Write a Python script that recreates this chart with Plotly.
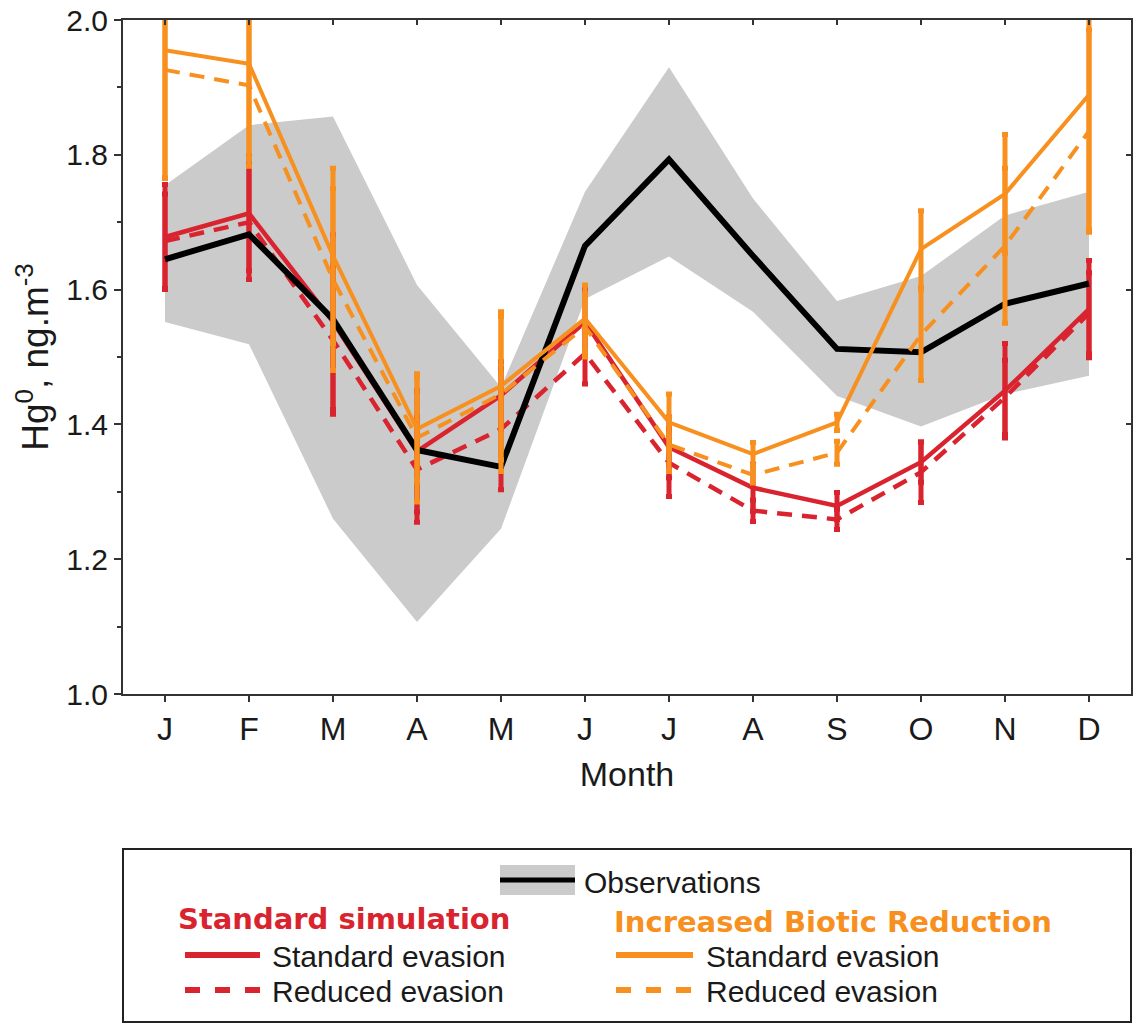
import plotly.graph_objects as go

# ---------------- data ----------------
month_labels = ["J", "F", "M", "A", "M", "J", "J", "A", "S", "O", "N", "D"]
month_idx = [1, 2, 3, 4, 5, 6, 7, 8, 9, 10, 11, 12]

obs_mean = [1.645, 1.682, 1.556, 1.362, 1.337, 1.665, 1.793, 1.650, 1.512, 1.507, 1.579, 1.609]
obs_high = [1.755, 1.844, 1.857, 1.607, 1.455, 1.745, 1.930, 1.735, 1.583, 1.620, 1.710, 1.745]
obs_low = [1.552, 1.519, 1.260, 1.107, 1.245, 1.586, 1.649, 1.567, 1.442, 1.397, 1.445, 1.472]

std_sim_std_evasion = [1.678, 1.713, 1.552, 1.360, 1.443, 1.552, 1.366, 1.306, 1.279, 1.344, 1.450, 1.571]
std_sim_std_evasion_err = [0.078, 0.085, 0.130, 0.090, 0.050, 0.050, 0.045, 0.035, 0.020, 0.030, 0.070, 0.072]
std_sim_red_evasion = [1.672, 1.700, 1.525, 1.333, 1.393, 1.505, 1.343, 1.272, 1.259, 1.329, 1.440, 1.565]
std_sim_red_evasion_err = [0.070, 0.085, 0.110, 0.078, 0.090, 0.045, 0.050, 0.016, 0.015, 0.045, 0.055, 0.060]

ibr_std_evasion = [1.955, 1.935, 1.650, 1.393, 1.457, 1.557, 1.403, 1.356, 1.403, 1.660, 1.742, 1.889]
ibr_std_evasion_err = [0.190, 0.140, 0.130, 0.077, 0.110, 0.050, 0.042, 0.017, 0.012, 0.057, 0.088, 0.200]
ibr_red_evasion = [1.926, 1.903, 1.615, 1.380, 1.445, 1.545, 1.370, 1.325, 1.358, 1.533, 1.665, 1.835]
ibr_red_evasion_err = [0.160, 0.120, 0.135, 0.095, 0.115, 0.045, 0.040, 0.012, 0.017, 0.068, 0.115, 0.150]

y_ticks = [1.0, 1.2, 1.4, 1.6, 1.8, 2.0]
y_ticklabels = ["1.0", "1.2", "1.4", "1.6", "1.8", "2.0"]

# ---------------- style ----------------
RED = "#d9232e"
ORANGE = "#f7901e"
GRAY = "#cbcbcb"
AXIS = "#333333"
FONT = "Liberation Sans, Arial, sans-serif"
BOLDFONT = "DejaVu Sans, sans-serif"

W, H = 1133, 1025
L, R, T, B = 123, 2, 20, 331
PW, PH = W - L - R, H - T - B


def px(x):
    return (x - L) / PW


def py(y):
    return (H - B - y) / PH


fig = go.Figure()

# observation band
fig.add_trace(go.Scatter(x=month_idx, y=obs_high, mode="lines", line=dict(width=0, color=GRAY),
                         hoverinfo="skip", showlegend=False))
fig.add_trace(go.Scatter(x=month_idx, y=obs_low, mode="lines", line=dict(width=0, color=GRAY),
                         fill="tonexty", fillcolor=GRAY, hoverinfo="skip", showlegend=False))


def sim_trace(y, err, color, dash, width):
    return go.Scatter(
        x=month_idx, y=y, mode="lines",
        line=dict(color=color, width=width, dash=dash),
        error_y=dict(type="data", array=err, visible=True, color=color, thickness=5, width=3),
        showlegend=False,
    )


fig.add_trace(sim_trace(std_sim_red_evasion, std_sim_red_evasion_err, RED, "15px,10px", 4.5))
fig.add_trace(sim_trace(std_sim_std_evasion, std_sim_std_evasion_err, RED, "solid", 4.5))
fig.add_trace(go.Scatter(x=month_idx, y=obs_mean, mode="lines", line=dict(color="black", width=6),
                         showlegend=False))
fig.add_trace(sim_trace(ibr_red_evasion, ibr_red_evasion_err, ORANGE, "15px,10px", 4))
fig.add_trace(sim_trace(ibr_std_evasion, ibr_std_evasion_err, ORANGE, "solid", 4))

# dummy trace for mirrored inside ticks on top/right
fig.add_trace(go.Scatter(x=[1], y=[1.5], xaxis="x2", yaxis="y2", mode="markers",
                         marker=dict(opacity=0), hoverinfo="skip", showlegend=False))

fig.update_layout(
    width=W, height=H,
    margin=dict(l=L, r=R, t=T, b=B),
    paper_bgcolor="white", plot_bgcolor="white",
    font=dict(family=FONT, color="#1a1a1a"),
    showlegend=False,
    xaxis=dict(
        range=[0.5, 12.5], tickmode="array", tickvals=month_idx, ticktext=month_labels,
        showgrid=False, zeroline=False, showline=True, linecolor=AXIS, linewidth=2,
        ticks="outside", ticklen=6, tickwidth=2, tickcolor=AXIS,
        tickfont=dict(size=32, family=FONT),
        title=dict(text="Month", font=dict(size=34, family=FONT), standoff=16),
    ),
    yaxis=dict(
        range=[1.0, 2.0], tickmode="array", tickvals=y_ticks, ticktext=y_ticklabels,
        showgrid=False, zeroline=False, showline=True, linecolor=AXIS, linewidth=2,
        ticks="outside", ticklen=7, tickwidth=2, tickcolor=AXIS,
        minor=dict(dtick=0.1, ticks="outside", ticklen=4, tickwidth=2, tickcolor=AXIS),
        tickfont=dict(size=30, family=FONT),
        title=dict(text="Hg<sup>0</sup>, ng.m<sup>-3</sup>", font=dict(size=37, family=FONT), standoff=6),
    ),
    xaxis2=dict(
        overlaying="x", side="top", range=[0.5, 12.5], tickmode="array", tickvals=month_idx,
        showticklabels=False, showgrid=False, zeroline=False, showline=True, linecolor=AXIS,
        linewidth=2, ticks="inside", ticklen=5, tickwidth=2, tickcolor=AXIS,
    ),
    yaxis2=dict(
        overlaying="y", side="right", range=[1.0, 2.0], tickmode="array", tickvals=y_ticks,
        showticklabels=False, showgrid=False, zeroline=False, showline=True, linecolor=AXIS,
        linewidth=2, ticks="inside", ticklen=5, tickwidth=2, tickcolor=AXIS,
    ),
)

# ---------------- custom legend ----------------
shapes = []
annotations = []
shapes.append(dict(type="rect", xref="paper", yref="paper", x0=px(123), x1=px(1131), y0=py(849), y1=py(1022),
                   line=dict(color="#222222", width=2), fillcolor="white", layer="above"))
shapes.append(dict(type="rect", xref="paper", yref="paper", x0=px(500), x1=px(575), y0=py(865), y1=py(895),
                   line=dict(width=0), fillcolor=GRAY, layer="above"))
shapes.append(dict(type="line", xref="paper", yref="paper", x0=px(500), x1=px(575), y0=py(880), y1=py(880),
                   line=dict(color="black", width=5), layer="above"))
annotations.append(dict(xref="paper", yref="paper", x=px(582), y=py(882), xanchor="left", yanchor="middle",
                        text="Observations", showarrow=False, font=dict(size=30, family=FONT, color="#1a1a1a")))
annotations.append(dict(xref="paper", yref="paper", x=px(176), y=py(919), xanchor="left", yanchor="middle",
                        text="<b>Standard simulation</b>", showarrow=False,
                        font=dict(size=29, family=BOLDFONT, color=RED)))
annotations.append(dict(xref="paper", yref="paper", x=px(612), y=py(922), xanchor="left", yanchor="middle",
                        text="<b>Increased Biotic Reduction</b>", showarrow=False,
                        font=dict(size=29, family=BOLDFONT, color=ORANGE)))

legend_rows = [
    (185, 260, 270, 956, RED, "solid", "Standard evasion"),
    (185, 260, 270, 991, RED, "dot", "Reduced evasion"),
    (616, 693, 704, 956, ORANGE, "solid", "Standard evasion"),
    (616, 693, 704, 991, ORANGE, "dot", "Reduced evasion"),
]
for x0, x1, xt, yy, col, dash, label in legend_rows:
    shapes.append(dict(type="line", xref="paper", yref="paper", x0=px(x0), x1=px(x1), y0=py(yy - 1), y1=py(yy - 1),
                       line=dict(color=col, width=6, dash="15px,15px" if dash == "dot" else "solid"),
                       layer="above"))
    annotations.append(dict(xref="paper", yref="paper", x=px(xt), y=py(yy), xanchor="left", yanchor="middle",
                            text=label, showarrow=False, font=dict(size=30, family=FONT, color="#1a1a1a")))

fig.update_layout(shapes=shapes, annotations=annotations)

fig.write_html("out.html")
